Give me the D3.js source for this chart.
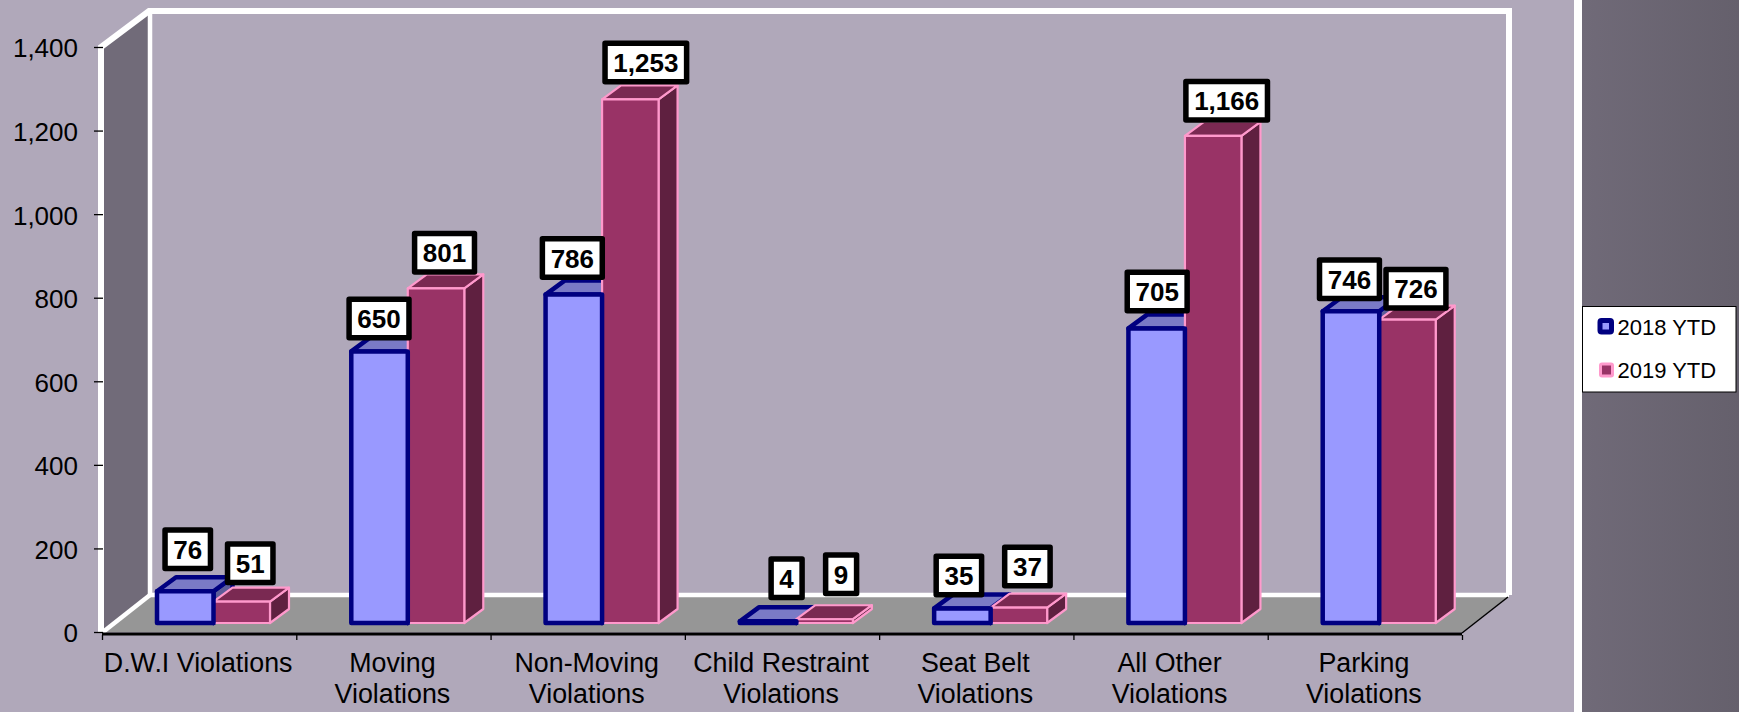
<!DOCTYPE html>
<html><head><meta charset="utf-8">
<script src="https://cdn.jsdelivr.net/npm/d3@7/dist/d3.min.js"></script>
<style>html,body{margin:0;padding:0;background:#b0a8ba;overflow:hidden}svg{display:block}text{font-family:"Liberation Sans",Arial,sans-serif}</style>
</head><body><svg id="c" width="1739" height="712"></svg>
<script>
const categories=[["D.W.I Violations"],["Moving","Violations"],["Non-Moving","Violations"],["Child Restraint","Violations"],["Seat Belt","Violations"],["All Other","Violations"],["Parking","Violations"]];
const series2018=[76,650,786,4,35,705,746];
const series2019=[51,801,1253,9,37,1166,726];
const seriesNames=["2018 YTD","2019 YTD"];
const yTicks=[0,200,400,600,800,1000,1200,1400];
// manual label nudges of the original chart layout
const nudge2018=[[-1,-2],[-4,7],[-5,3.5],[15,-3],[-7,7],[-3,3],[-5,8]];
const nudge2019=[[5,1.5],[5,4.5],[12,3],[13,-5],[5,-1],[10,5],[5,9]];

const svg=d3.select("#c");
const x=d3.scaleLinear().domain([0,7]).range([102,1462]);
const y=d3.scaleLinear().domain([0,1400]).range([632,47]);
const DX=46,DY=-35;        // wall depth
const bdy=-9;              // bar inset
const sdx=19,sdy=-14;      // bar depth
const bw=56.5;
const fmt=d3.format(",");

svg.append("rect").attr("width",1739).attr("height",712).attr("fill","#b0a8ba");
const grad=svg.append("defs").append("linearGradient").attr("id","pan");
grad.append("stop").attr("offset",0).attr("stop-color","#706a78");
grad.append("stop").attr("offset",1).attr("stop-color","#65606c");
svg.append("rect").attr("x",1574).attr("width",8).attr("height",712).attr("fill","#fff");
svg.append("rect").attr("x",1582).attr("width",157).attr("height",712).attr("fill","url(#pan)");

// walls & floor
const x0=x(0),x7=x(7),y0=y(0),yT=y(1400);
svg.append("polygon").attr("fill","#716b79").attr("points",[[x0,yT],[x0+DX,yT+DY],[x0+DX,y0+DY],[x0,y0]].join(" "));
svg.append("polygon").attr("fill","#969696").attr("points",[[x0,y0],[x0+DX,y0+DY],[x7+DX,y0+DY],[x7,y0]].join(" "));
svg.append("path").attr("fill","none").attr("stroke","#fff").attr("stroke-width",6).attr("d",`M${x0-1},${y0}V${yT}L${x0+DX+1},${yT+DY-1}H${x7+DX+1}V${y0+DY-2}`);
svg.append("path").attr("fill","none").attr("stroke","#fff").attr("stroke-width",4.5).attr("d",`M${x0+DX+2},${yT+DY}V${y0+DY-2}M${x7+DX+1},${y0+DY-2}H${x0+DX+2}`);
svg.append("path").attr("fill","none").attr("stroke","#fff").attr("stroke-width",4.5).attr("d",`M${x0+DX+2},${y0+DY-2}L${x0+1},${y0}`);
svg.append("path").attr("fill","none").attr("stroke","#000").attr("stroke-width",1.5).attr("d",`M${x7},${y0+1}L${x7+DX},${y0+DY}`);
svg.append("path").attr("fill","none").attr("stroke","#000").attr("stroke-width",3).attr("d",`M${x0},${y0+2}H${x7}`);

// axes
const yAxis=d3.axisLeft(y).tickValues(yTicks).tickFormat(fmt).tickSize(9).tickPadding(16);
const ya=svg.append("g").attr("transform",`translate(${x0+1},0)`).call(yAxis);
ya.select(".domain").remove();
ya.selectAll("text").attr("font-size",26).attr("fill","#000").attr("dy","0.38em");
ya.selectAll("line").attr("stroke","#000").attr("stroke-width",1.3);
const xa=svg.append("g").attr("transform",`translate(0,${y0+3})`).call(d3.axisBottom(x).tickValues(d3.range(8)).tickSize(5).tickFormat(""));
xa.select(".domain").remove();
xa.selectAll("line").attr("stroke","#000").attr("stroke-width",1.3);
categories.forEach((lines,i)=>{
  const t=svg.append("text").attr("x",x(i+0.5)-1).attr("y",y0+40).attr("text-anchor","middle").attr("font-size",26.8).attr("fill","#000");
  lines.forEach((l,k)=>t.append("tspan").attr("x",x(i+0.5)-1).attr("dy",k?31:0).text(l));
});

// bars
const styles=[{front:"#9999ff",top:"#7a7ac6",side:"#5c5c99",stroke:"#000080",sw:4.5},
              {front:"#993366",top:"#7a2952",side:"#5f2040",stroke:"#ff99cc",sw:2.2}];
function barTop(g,left,val,st){
  const b=y(0)+bdy, t=b-(y(0)-y(val)), r=left+bw;
  const ln=g.append("g").attr("stroke",st.stroke).attr("stroke-width",st.sw).attr("stroke-linejoin","round");
  ln.append("polygon").attr("fill",st.side).attr("points",[[r,t],[r+sdx,t+sdy],[r+sdx,b+sdy],[r,b]].join(" "));
  ln.append("polygon").attr("fill",st.top).attr("points",[[left,t],[left+sdx,t+sdy],[r+sdx,t+sdy],[r,t]].join(" "));
}
function barFront(g,left,val,st){
  const b=y(0)+bdy, t=b-(y(0)-y(val));
  g.append("rect").attr("fill",st.front).attr("stroke",st.stroke).attr("stroke-width",st.sw).attr("stroke-linejoin","round").attr("x",left).attr("y",t).attr("width",bw).attr("height",b-t);
}
const gb=svg.append("g");
const all=[];
series2018.forEach((v,i)=>{
  const l=x(i)+55;
  barTop(gb,l,v,styles[0]);
  barTop(gb,l+bw,series2019[i],styles[1]);
  barFront(gb,l+bw,series2019[i],styles[1]);
  barFront(gb,l,v,styles[0]);
  all.push({v,cx:l+bw/2+sdx/2-6+nudge2018[i][0],by:y(0)+bdy-(y(0)-y(v))+sdy-4+nudge2018[i][1]});
  all.push({v:series2019[i],cx:l+bw*1.5+sdx/2-6+nudge2019[i][0],by:y(0)+bdy-(y(0)-y(series2019[i]))+sdy-4+nudge2019[i][1]});
});
// labels
all.forEach(d=>{
  const g=svg.append("g");
  const t=g.append("text").attr("x",d.cx).attr("y",d.by-12.5).attr("text-anchor","middle").attr("font-size",26).attr("font-weight","bold").attr("fill","#000").text(fmt(d.v));
  const w=t.node().getComputedTextLength()+22;
  g.insert("rect","text").attr("x",d.cx-w/2+2.75).attr("y",d.by-41.25).attr("width",w-5.5).attr("height",38.5).attr("fill","#fff").attr("stroke","#000").attr("stroke-width",5.5).attr("stroke-linejoin","round");
});
// legend
const lg=svg.append("g").attr("transform","translate(1582.5,306.5)");
lg.append("rect").attr("width",153.5).attr("height",85.5).attr("fill","#fff").attr("stroke","#000").attr("stroke-width",1);
const legendRow=[21,64];
seriesNames.forEach((n,i)=>{
  const yy=legendRow[i];
  lg.append("rect").attr("x",i?18:17.5).attr("y",yy-(i?6.5:7)).attr("width",i?12:11.5).attr("height",i?12:11.5).attr("rx",1.5).attr("fill",styles[i].front).attr("stroke",styles[i].stroke).attr("stroke-width",i?3:5);
  lg.append("text").attr("x",35).attr("y",yy+7.5).attr("font-size",22).attr("fill","#000").text(n);
});
</script></body></html>
